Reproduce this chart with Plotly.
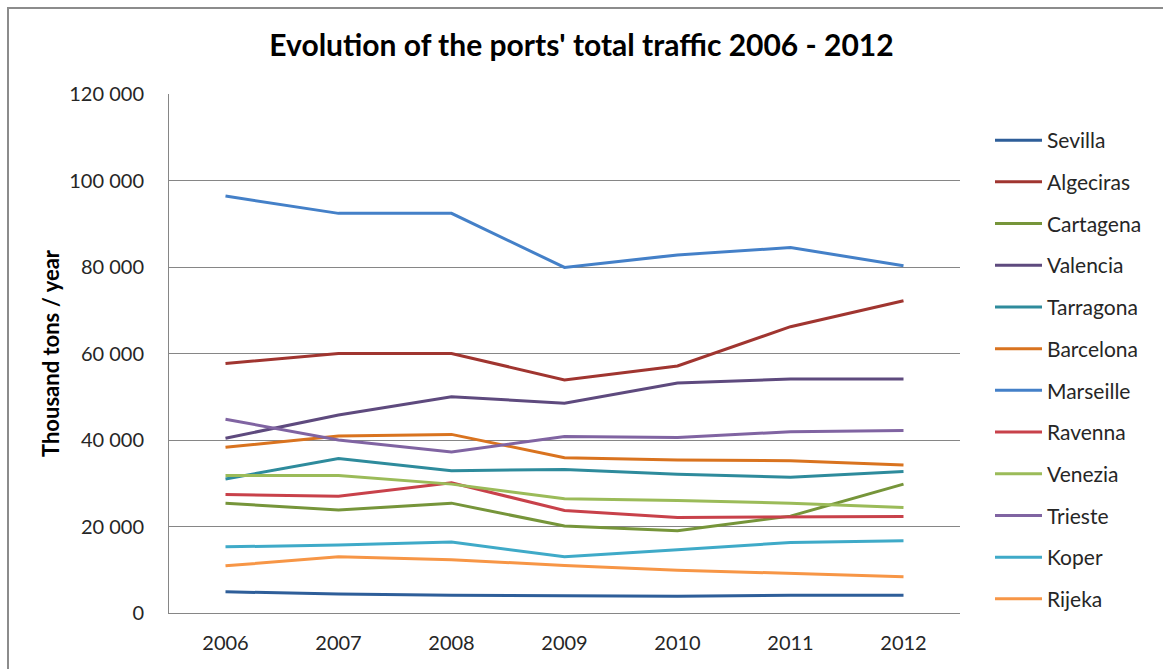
import plotly.graph_objects as go

years = ["2006", "2007", "2008", "2009", "2010", "2011", "2012"]

sevilla   = [4900, 4400, 4100, 4000, 3900, 4100, 4100]
algeciras = [57700, 60000, 60000, 53900, 57100, 66200, 72200]
cartagena = [25400, 23800, 25400, 20100, 19000, 22400, 29800]
valencia  = [40400, 45800, 50000, 48500, 53200, 54100, 54100]
tarragona = [31000, 35700, 32900, 33200, 32100, 31400, 32700]
barcelona = [38300, 40900, 41300, 35900, 35400, 35200, 34200]
marseille = [96400, 92400, 92400, 79900, 82800, 84500, 80300]
ravenna   = [27400, 27000, 30100, 23700, 22100, 22200, 22300]
venezia   = [31800, 31800, 29800, 26400, 26000, 25400, 24400]
trieste   = [44800, 40000, 37200, 40800, 40600, 41900, 42200]
koper     = [15300, 15700, 16400, 13000, 14600, 16300, 16700]
rijeka    = [10900, 13000, 12300, 11000, 9900, 9200, 8400]

names = ["Sevilla", "Algeciras", "Cartagena", "Valencia", "Tarragona", "Barcelona",
         "Marseille", "Ravenna", "Venezia", "Trieste", "Koper", "Rijeka"]
series = [sevilla, algeciras, cartagena, valencia, tarragona, barcelona,
          marseille, ravenna, venezia, trieste, koper, rijeka]
colors = ["#2E5E99", "#A03530", "#76953A", "#5E4A7E", "#2E8B9C", "#D9731F",
          "#4480C8", "#C8414A", "#9BBB59", "#8064A2", "#3FAAC8", "#F79646"]

yticks = [0, 20000, 40000, 60000, 80000, 100000, 120000]

fig = go.Figure()
for n, s, c in zip(names, series, colors):
    fig.add_trace(go.Scatter(x=years, y=s, name=n, mode="lines",
                             line=dict(color=c, width=3), legendgroup=n))

W, H = 1163, 669
L, R, T, B = 169, 960, 94, 613

fig.update_layout(
    width=W, height=H,
    margin=dict(l=L, r=W - R, t=T, b=H - B, autoexpand=False),
    paper_bgcolor="white", plot_bgcolor="white",
    font=dict(family="Lato, 'Open Sans', sans-serif", color="#262626"),
    separators=". ",
    title=dict(text="<b>Evolution of the ports' total traffic 2006 - 2012</b>",
               x=0.5, xref="container", xanchor="center",
               y=1 - 45 / H, yanchor="middle",
               font=dict(size=30, color="#000000")),
    legend=dict(x=(990 - L) / (R - L), xanchor="left",
                y=(B - 120) / (B - T), yanchor="top",
                font=dict(size=21, color="#262626"),
                itemwidth=47,
                tracegroupgap=11.4, bgcolor="rgba(0,0,0,0)"),
    showlegend=True,
)

fig.update_xaxes(
    type="category", range=[-0.5, 6.5], showgrid=False, showline=True,
    linecolor="#868686", linewidth=1, ticks="",
    tickfont=dict(size=20, color="#262626"),
    ticklabelstandoff=12, zeroline=False, automargin=False,
)
fig.update_yaxes(
    range=[0, 120000], tickvals=yticks, tickformat=",d",
    showgrid=True, gridcolor="#868686", gridwidth=1,
    showline=True, linecolor="#868686", linewidth=1, zeroline=False,
    tickfont=dict(size=20, color="#262626"), ticklabelstandoff=20,
    automargin=False,
    title=dict(text="<b>Thousand tons / year</b>", font=dict(size=22, color="#000000"),
               standoff=3),
)

# outer chart border
fig.add_shape(type="rect", xref="paper", yref="paper",
              x0=(8 - L) / (R - L), x1=(1600 - L) / (R - L),
              y0=(B - 900) / (B - T), y1=(B - 8) / (B - T),
              line=dict(color="#8C8C8C", width=2), layer="below")

fig.write_html("out.html",
               config={"displayModeBar": False},
               post_script="document.body.style.margin='0';"
                           "document.body.style.overflow='hidden';")
